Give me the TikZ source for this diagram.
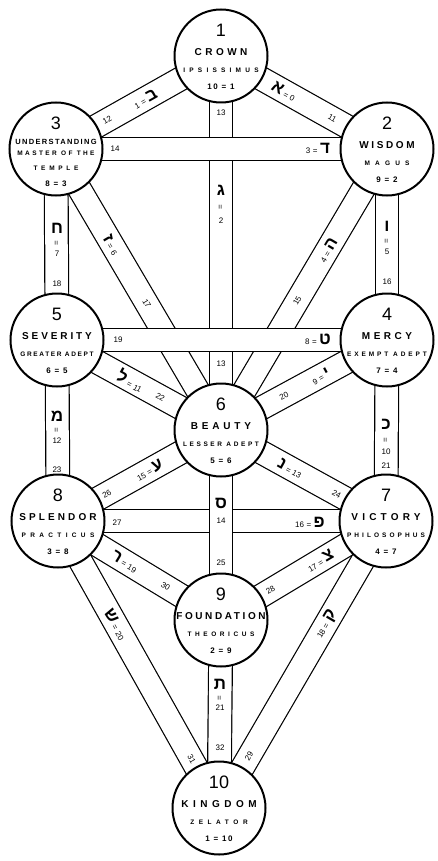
\documentclass[tikz,border=0pt]{standalone}
\usepackage{fontspec}
\setmainfont{Liberation Sans}
\newfontfamily\hebfont[Script=Hebrew]{Liberation Sans}
\newcommand\Heb[1]{{\hebfont\fontsize{17}{17}\selectfont\bfseries #1}}
\newcommand\pnum[1]{{\fontsize{8}{8}\selectfont #1}}
\newcommand\peq{{\fontsize{8}{8}\selectfont\hspace{2.5pt}=\hspace{2.5pt}}}
\newcommand\veq{{\fontsize{8}{8}\selectfont =}}
\newcommand\ttl[2]{{\fontsize{10}{10}\selectfont\bfseries\addfontfeature{LetterSpace=#1}#2}}
\newcommand\sbt[2]{{\fontsize{6.5}{7}\selectfont\bfseries\addfontfeature{LetterSpace=#1}#2}}
\newcommand\grd[1]{{\fontsize{8}{8}\selectfont\bfseries\addfontfeature{LetterSpace=20}#1}}
\newcommand\sefnum[1]{{\fontsize{18}{18}\selectfont #1}}
\tikzset{
  band/.style={draw=black, line width=1.2pt, double=white, double distance=22.5pt},
  sefira/.style={circle, draw=black, line width=2pt, fill=white, minimum size=93pt, inner sep=0pt},
  lab/.style={inner sep=0pt, sloped},
  vlab/.style={inner sep=0pt},
}
\newcommand\sef[8]{%
  \node[sefira] (#1) at (#2) {};
  \node[vlab] (#1n) at ([yshift=26pt]#2) {\sefnum{#3}};
  \node[vlab] (#1t) at ([yshift=4pt]#2) {\ttl{#5}{#4}};
  \node[vlab] (#1s) at ([yshift=-14pt]#2) {\sbt{#7}{#6}};
  \node[vlab] (#1g) at ([yshift=-31pt]#2) {\grd{#8}};
}
\begin{document}
\begin{tikzpicture}[x=1pt,y=-1pt]
\useasboundingbox (0,0) rectangle (438,861);
\coordinate (c1) at (221,56);
\coordinate (c2) at (387,149);
\coordinate (c3) at (56,149);
\coordinate (c4) at (387,340);
\coordinate (c5) at (57,340);
\coordinate (c6) at (221,430);
\coordinate (c7) at (386,521);
\coordinate (c8) at (58,521);
\coordinate (c9) at (221,620);
\coordinate (c10) at (219,808);
% bands
\draw[band] (c1) -- (c6);
\draw[band] (c1) -- (c2);
\draw[band] (c1) -- (c3);
\draw[band] (c2) -- (c6);
\draw[band] (c2) -- (c4);
\draw[band] (c3) -- (c6);
\draw[band] (c3) -- (c5);
\draw[band] (c4) -- (c6);
\draw[band] (c4) -- (c7);
\draw[band] (c5) -- (c6);
\draw[band] (c5) -- (c8);
\draw[band] (c6) -- (c7);
\draw[band] (c6) -- (c8);
\draw[band] (c7) -- (c9);
\draw[band] (c7) -- (c10);
\draw[band] (c8) -- (c9);
\draw[band] (c8) -- (c10);
\draw[band] (c9) -- (c10);
\draw[band] (c3) -- (c2);
\draw[band] (c5) -- (c4);
\draw[band] (c8) -- (c7);
\draw[band] (c6) -- (c9);
% sephiroth
\sef{s1}{c1}{1}{CROWN}{35}{IPSISSIMUS}{65}{10 = 1}
\sef{s2}{c2}{2}{WISDOM}{26}{MAGUS}{80}{9 = 2}
\node[sefira] (s3) at (c3) {};
\node[vlab] (s3n) at ([yshift=26pt]c3) {\sefnum{3}};
\node[vlab] (s3t) at ([yshift=7pt]c3) {{\fontsize{7.5}{8}\selectfont\bfseries\addfontfeature{LetterSpace=18}UNDERSTANDING}};
\node[vlab] (s3s) at ([yshift=-4pt]c3) {\sbt{37}{MASTER OF THE}};
\node[vlab] (s3u) at ([yshift=-19pt]c3) {\sbt{57}{TEMPLE}};
\node[vlab] (s3g) at ([yshift=-35pt]c3) {\grd{8 = 3}};
\sef{s4}{c4}{4}{MERCY}{35}{EXEMPT ADEPT}{45}{7 = 4}
\sef{s5}{c5}{5}{SEVERITY}{29}{GREATER ADEPT}{25}{6 = 5}
\sef{s6}{c6}{6}{BEAUTY}{38}{LESSER ADEPT}{40}{5 = 6}
\sef{s7}{c7}{7}{VICTORY}{42}{PHILOSOPHUS}{47}{4 = 7}
\sef{s8}{c8}{8}{SPLENDOR}{31}{PRACTICUS}{67}{3 = 8}
\sef{s9}{c9}{9}{FOUNDATION}{26}{THEORICUS}{55}{2 = 9}
\sef{s10}{c10}{10}{KINGDOM}{45}{ZELATOR}{70}{1 = 10}
% path labels
\path (c1) -- (c2) node[lab,pos=0.38] (l11a) {\Heb{א}\peq\pnum{0}} node[lab,pos=0.67] (l11b) {\pnum{11}};
\path (c1) -- (c3) node[lab,pos=0.46] (l12a) {\pnum{1}\peq\Heb{ב}} node[lab,pos=0.69] (l12b) {\pnum{12}};
\node[vlab] (l13a) at (221,113) {\pnum{13}};
\node[vlab] (l13b) at (221,190) {\Heb{ג}};
\node[vlab,rotate=90] (l13c) at (221,207) {\veq};
\node[vlab] (l13d) at (221,221) {\pnum{2}};
\node[vlab] (l13e) at (221,364) {\pnum{13}};
\node[vlab] (l14a) at (115,149) {\pnum{14}};
\node[vlab] (l14b) at (318,148) {\pnum{3}\peq\Heb{ד}};
\path (c2) -- (c6) node[lab,pos=0.36] (l15a) {\pnum{4}\peq\Heb{ה}} node[lab,pos=0.54] (l15b) {\pnum{15}};
\node[vlab] (l16a) at (387,226) {\Heb{ו}};
\node[vlab,rotate=90] (l16b) at (387,241) {\veq};
\node[vlab] (l16c) at (387,252) {\pnum{5}};
\node[vlab] (l16d) at (387,282) {\pnum{16}};
\path (c3) -- (c6) node[lab,pos=0.34] (l17a) {\Heb{ז}\peq\pnum{6}} node[lab,pos=0.55] (l17b) {\pnum{17}};
\node[vlab] (l18a) at (57,228) {\Heb{ח}};
\node[vlab,rotate=90] (l18b) at (57,243) {\veq};
\node[vlab] (l18c) at (57,254) {\pnum{7}};
\node[vlab] (l18d) at (57,284) {\pnum{18}};
\node[vlab] (l19a) at (118,340) {\pnum{19}};
\node[vlab] (l19b) at (318,339) {\pnum{8}\peq\Heb{ט}};
\path (c4) -- (c6) node[lab,pos=0.40] (l20a) {\pnum{9}\peq\Heb{י}} node[lab,pos=0.62] (l20b) {\pnum{20}};
\node[vlab] (l21a) at (386,424) {\Heb{כ}};
\node[vlab,rotate=90] (l21b) at (386,440) {\veq};
\node[vlab] (l21c) at (386,452) {\pnum{10}};
\node[vlab] (l21d) at (386,466) {\pnum{21}};
\path (c5) -- (c6) node[lab,pos=0.45] (l22a) {\Heb{ל}\peq\pnum{11}} node[lab,pos=0.63] (l22b) {\pnum{22}};
\node[vlab] (l23a) at (57,416) {\Heb{מ}};
\node[vlab,rotate=90] (l23b) at (57,430) {\veq};
\node[vlab] (l23c) at (57,441) {\pnum{12}};
\node[vlab] (l23d) at (57,470) {\pnum{23}};
\path (c6) -- (c7) node[lab,pos=0.42] (l24a) {\Heb{נ}\peq\pnum{13}} node[lab,pos=0.70] (l24b) {\pnum{24}};
\node[vlab] (l25a) at (221,503) {\Heb{ס}};
\node[vlab] (l25b) at (221,521) {\pnum{14}};
\node[vlab] (l25c) at (221,563) {\pnum{25}};
\path (c6) -- (c8) node[lab,pos=0.44] (l26a) {\pnum{15}\peq\Heb{ע}} node[lab,pos=0.70] (l26b) {\pnum{26}};
\node[vlab] (l27a) at (117,523) {\pnum{27}};
\node[vlab] (l27b) at (310,522) {\pnum{16}\peq\Heb{פ}};
\path (c7) -- (c9) node[lab,pos=0.40] (l28a) {\pnum{17}\peq\Heb{צ}} node[lab,pos=0.70] (l28b) {\pnum{28}};
\path (c7) -- (c10) node[lab,pos=0.36] (l29a) {\pnum{18}\peq\Heb{ק}} node[lab,pos=0.82] (l29b) {\pnum{29}};
\path (c8) -- (c9) node[lab,pos=0.41] (l30a) {\Heb{ר}\peq\pnum{19}} node[lab,pos=0.66] (l30b) {\pnum{30}};
\path (c8) -- (c10) node[lab,pos=0.36] (l31a) {\Heb{ש}\peq\pnum{20}} node[lab,pos=0.83] (l31b) {\pnum{31}};
\node[vlab] (l32a) at (220,684) {\Heb{ת}};
\node[vlab,rotate=90] (l32b) at (220,698) {\veq};
\node[vlab] (l32c) at (220,708) {\pnum{21}};
\node[vlab] (l32d) at (220,748) {\pnum{32}};
\end{tikzpicture}
\end{document}
